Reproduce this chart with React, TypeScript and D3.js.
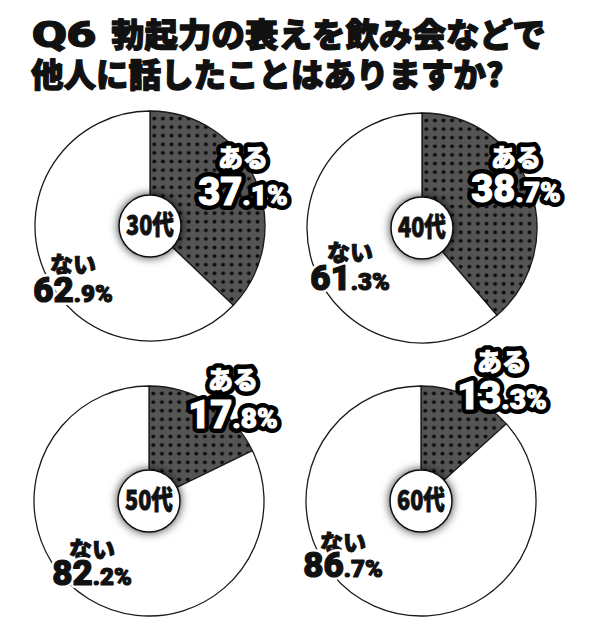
import * as d3 from "d3";

// ----- Data -------------------------------------------------------------
const titleTag = "Q6";
const titleLines = ["勃起力の衰えを飲み会などで", "他人に話したことはありますか?"];
const ageGroups = ["30代", "40代", "50代", "60代"];
const answers = ["ある", "ない"];
const yesValues = [37.1, 38.7, 17.8, 13.3];
const noValues = [62.9, 61.3, 82.2, 86.7];

// ----- Layout (pie centres and label offsets relative to the centre) ----
const W = 592;
const H = 640;
const R = 115;
const centres = [
  { x: 150, y: 226 },
  { x: 422, y: 228 },
  { x: 149, y: 501 },
  { x: 421, y: 501 },
];
const yesLabelPos = [
  { dx: 93, dy1: -59, dy2: -21 },
  { dx: 94, dy1: -61, dy2: -26 },
  { dx: 84, dy1: -112, dy2: -73 },
  { dx: 81, dy1: -130, dy2: -92 },
];
const noLabelPos = [
  { dx: -77, dy1: 47, dy2: 76 },
  { dx: -72, dy1: 33, dy2: 62 },
  { dx: -57, dy1: 57, dy2: 84 },
  { dx: -78, dy1: 50, dy2: 76 },
];

const JP = "'Noto Sans CJK JP', sans-serif";
const NUM = "Roboto, 'Noto Sans CJK JP', sans-serif";

const pie = d3
  .pie<number>()
  .sort(null)
  .value((d) => d);
const arc = d3.arc<d3.PieArcDatum<number>>().innerRadius(0).outerRadius(R);

// split "37.1" -> ["37", ".1%"]
const splitPct = (v: number) => {
  const s = v.toFixed(1);
  const i = s.indexOf(".");
  return [s.slice(0, i), s.slice(i) + "%"];
};

const pctSpans = (v: number, big: number, small: number) => {
  const [a, b] = splitPct(v);
  return [
    <tspan key="a" fontSize={big}>
      {a}
    </tspan>,
    <tspan key="b" fontSize={small}>
      {b}
    </tspan>,
  ];
};

// One real <text>; its halo is a <use> clone drawn underneath.
// Paint comes from the parent so the clone can take other colours.
const Haloed = ({
  id,
  x,
  y,
  family,
  size,
  fill,
  halo,
  haloWidth,
  bold,
  children,
}: {
  id: string;
  x: number;
  y: number;
  family: string;
  size?: number;
  fill: string;
  halo: string;
  haloWidth: number;
  bold: number;
  children: React.ReactNode;
}) => (
  <g>
    <use href={`#${id}`} fill={halo} stroke={halo} strokeWidth={haloWidth} strokeLinejoin="round" />
    <g fill={fill} stroke={fill} strokeWidth={bold} strokeLinejoin="round">
      <text id={id} x={x} y={y} fontFamily={family} fontSize={size} fontWeight={900} textAnchor="middle">
        {children}
      </text>
    </g>
  </g>
);

const App = () => {
  return (
    <svg
      width={W}
      height={H}
      viewBox={`0 0 ${W} ${H}`}
      style={{ position: "absolute", left: 0, top: 0, background: "#fff" }}
    >
      <defs>
        <pattern id="dots" width={8.6} height={8.6} patternUnits="userSpaceOnUse">
          <rect width={8.6} height={8.6} fill="#555" />
          <circle cx={4.3} cy={4.3} r={2} fill="#0d0d0d" />
        </pattern>
        <filter id="shadow" x="-70%" y="-70%" width="240%" height="240%">
          <feDropShadow dx={0} dy={0} stdDeviation={5} floodColor="#000" floodOpacity={0.8} />
        </filter>
      </defs>

      {/* title */}
      <text
        x={32}
        y={47}
        fontFamily={NUM}
        fontWeight={900}
        fontSize={36}
        fill="#111"
        stroke="#111"
        strokeWidth={1.2}
        textLength={64}
        lengthAdjust="spacingAndGlyphs"
      >
        {titleTag}
      </text>
      {titleLines.map((t, i) => (
        <text
          key={t}
          x={i === 0 ? 111 : 31}
          y={47 + i * 40}
          fontFamily={JP}
          fontWeight={900}
          fontSize={i === 0 ? 33.5 : 32.5}
          fill="#111"
          stroke="#111"
          strokeWidth={1.3}
          strokeLinejoin="round"
        >
          {t}
        </text>
      ))}

      {ageGroups.map((age, i) => {
        const c = centres[i];
        const arcs = pie([yesValues[i], noValues[i]]);
        const yl = yesLabelPos[i];
        const nl = noLabelPos[i];
        return (
          <g key={age} transform={`translate(${c.x},${c.y})`}>
            {arcs.map((d, j) => (
              <path
                key={j}
                d={arc(d) ?? ""}
                fill={j === 0 ? "url(#dots)" : "#fff"}
                stroke="#1a1a1a"
                strokeWidth={1.3}
              />
            ))}
            <circle r={31} fill="#fff" stroke="#111" strokeWidth={1.5} filter="url(#shadow)" />
            <text
              y={9}
              textAnchor="middle"
              fontFamily={JP}
              fontWeight={900}
              fontSize={27}
              fill="#111"
              stroke="#111"
              strokeWidth={0.9}
              transform="scale(0.8,1)"
            >
              {age}
            </text>

            {/* ある */}
            <Haloed id={`yes-a-${i}`} x={yl.dx} y={yl.dy1} family={JP} size={25} fill="#fff" halo="#000" haloWidth={10} bold={0.8}>
              {answers[0]}
            </Haloed>
            <Haloed id={`yes-p-${i}`} x={yl.dx} y={yl.dy2} family={NUM} fill="#fff" halo="#000" haloWidth={10} bold={1}>
              {pctSpans(yesValues[i], 38, 28)}
            </Haloed>

            {/* ない */}
            <Haloed id={`no-a-${i}`} x={nl.dx} y={nl.dy1} family={JP} size={23} fill="#111" halo="#fff" haloWidth={6} bold={1}>
              {answers[1]}
            </Haloed>
            <Haloed id={`no-p-${i}`} x={nl.dx} y={nl.dy2} family={NUM} fill="#111" halo="#fff" haloWidth={6} bold={1.2}>
              {pctSpans(noValues[i], 35, 24)}
            </Haloed>
          </g>
        );
      })}
    </svg>
  );
};

export default App;
